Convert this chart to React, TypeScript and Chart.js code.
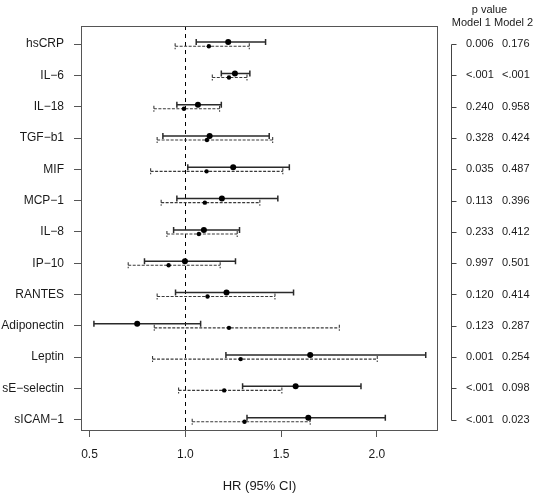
import React, { useEffect, useRef } from "react";
import { Chart, registerables } from "chart.js";

Chart.register(...registerables);

const categories = ["hsCRP", "IL\u22126", "IL\u221218", "TGF\u2212b1", "MIF", "MCP\u22121", "IL\u22128", "IP\u221210", "RANTES", "Adiponectin", "Leptin", "sE\u2212selectin", "sICAM\u22121"];
const model1HR = [1.224, 1.259, 1.066, 1.127, 1.25, 1.191, 1.097, 0.998, 1.215, 0.749, 1.652, 1.576, 1.642];
const model1Lo = [1.057, 1.188, 0.956, 0.883, 1.013, 0.956, 0.939, 0.787, 0.949, 0.523, 1.212, 1.299, 1.322];
const model1Hi = [1.419, 1.337, 1.188, 1.438, 1.543, 1.483, 1.283, 1.262, 1.565, 1.08, 2.255, 1.917, 2.044];
const model2HR = [1.123, 1.228, 0.993, 1.113, 1.111, 1.102, 1.071, 0.913, 1.116, 1.228, 1.289, 1.203, 1.309];
const model2Lo = [0.947, 1.141, 0.836, 0.853, 0.819, 0.874, 0.904, 0.702, 0.853, 0.838, 0.829, 0.965, 1.036];
const model2Hi = [1.334, 1.322, 1.179, 1.456, 1.509, 1.389, 1.271, 1.182, 1.468, 1.804, 2.002, 1.504, 1.652];
const pModel1 = ["0.006", "<.001", "0.240", "0.328", "0.035", "0.113", "0.233", "0.997", "0.120", "0.123", "0.001", "<.001", "<.001"];
const pModel2 = ["0.176", "<.001", "0.958", "0.424", "0.487", "0.396", "0.412", "0.501", "0.414", "0.287", "0.254", "0.098", "0.023"];
const xTicks = [0.5, 1.0, 1.5, 2.0];
const refValue = 1.0;
const xTitle = "HR (95% CI)";
const pHeader = "p value";
const modelHeader = "Model 1 Model 2";

const FONT = "'Liberation Sans', Arial, Helvetica, sans-serif";
const N = categories.length;
const rowPos = (i: number) => N - i;
const OFF = 0.065;

const forestPlugin = {
  id: "forest",
  beforeDatasetsDraw(chart: any) {
    const { ctx, chartArea: a, scales } = chart;
    const x = scales.x;
    const y = scales.y;
    ctx.save();
    const xr = Math.round(x.getPixelForValue(refValue)) + 0.5;
    ctx.strokeStyle = "#000";
    ctx.lineWidth = 1;
    ctx.setLineDash([4, 4]);
    ctx.beginPath();
    ctx.moveTo(xr, a.top);
    ctx.lineTo(xr, a.bottom);
    ctx.stroke();

    const bar = (lo: number, hi: number, pos: number, dashed: boolean) => {
      const py = y.getPixelForValue(pos);
      const x0 = x.getPixelForValue(lo);
      const x1 = x.getPixelForValue(hi);
      ctx.setLineDash(dashed ? [3, 1.5] : []);
      ctx.strokeStyle = dashed ? "#3a3a3a" : "#2a2a2a";
      ctx.lineWidth = dashed ? 1.1 : 1.5;
      ctx.beginPath();
      ctx.moveTo(x0, py);
      ctx.lineTo(x1, py);
      ctx.moveTo(x0, py - 3);
      ctx.lineTo(x0, py + 3);
      ctx.moveTo(x1, py - 3);
      ctx.lineTo(x1, py + 3);
      ctx.stroke();
    };
    categories.forEach((_, i) => {
      bar(model2Lo[i], model2Hi[i], rowPos(i) - OFF, true);
      bar(model1Lo[i], model1Hi[i], rowPos(i) + OFF, false);
    });
    ctx.restore();
  },
  afterDraw(chart: any) {
    const { ctx, chartArea: a, scales } = chart;
    const y = scales.y;
    ctx.save();
    ctx.setLineDash([]);
    ctx.strokeStyle = "#555";
    ctx.lineWidth = 1;
    ctx.strokeRect(a.left + 0.5, a.top + 0.5, a.right - a.left - 1, a.bottom - a.top);
    const axX = Math.round(a.right) + 13.5;
    const yTop = y.getPixelForValue(rowPos(0));
    const yBot = y.getPixelForValue(rowPos(N - 1));
    ctx.strokeStyle = "#444";
    ctx.beginPath();
    ctx.moveTo(axX, Math.round(yTop) + 0.5);
    ctx.lineTo(axX, Math.round(yBot) + 0.5);
    categories.forEach((_, i) => {
      const py = Math.round(y.getPixelForValue(rowPos(i))) + 0.5;
      ctx.moveTo(axX, py);
      ctx.lineTo(axX + 5, py);
    });
    ctx.stroke();
    ctx.fillStyle = "#1a1a1a";
    ctx.font = `11px ${FONT}`;
    ctx.textBaseline = "middle";
    ctx.textAlign = "left";
    categories.forEach((_, i) => {
      const py = y.getPixelForValue(rowPos(i));
      ctx.fillText(pModel1[i], axX + 14.5, py);
      ctx.fillText(pModel2[i], axX + 50.5, py);
    });
    ctx.textAlign = "center";
    ctx.fillText(pHeader, axX + 38, a.top - 16);
    ctx.fillText(modelHeader, axX + 41, a.top - 3);
    ctx.restore();
  },
};

export default function App() {
  const ref = useRef<HTMLCanvasElement>(null);
  useEffect(() => {
    document.body.style.margin = "0";
    const canvas = ref.current;
    if (!canvas) return;
    const chart = new Chart(canvas, {
      type: "scatter",
      data: {
        datasets: [
          {
            label: "Model 2",
            data: categories.map((_, i) => ({ x: model2HR[i], y: rowPos(i) - OFF })),
            pointRadius: 2.2,
            pointBackgroundColor: "#000",
            pointBorderWidth: 0,
            pointHoverRadius: 2.2,
          },
          {
            label: "Model 1",
            data: categories.map((_, i) => ({ x: model1HR[i], y: rowPos(i) + OFF })),
            pointRadius: 3,
            pointBackgroundColor: "#000",
            pointBorderWidth: 0,
            pointHoverRadius: 3,
          },
        ],
      },
      options: {
        animation: false,
        responsive: false,
        devicePixelRatio: 1,
        layout: { padding: { top: 26, right: 99, left: 0, bottom: 0 } },
        plugins: { legend: { display: false }, tooltip: { enabled: false } },
        events: [],
        scales: {
          x: {
            type: "linear",
            min: 0.4556,
            max: 2.319,
            afterFit: (s: any) => {
              s.height = 66;
            },
            afterBuildTicks: (s: any) => {
              s.ticks = xTicks.map((v) => ({ value: v }));
            },
            ticks: {
              autoSkip: false,
              maxRotation: 0,
              padding: 10,
              color: "#1a1a1a",
              font: { family: FONT, size: 12 },
              callback: (v: any) => Number(v).toFixed(1),
            },
            grid: { display: true, drawOnChartArea: false, drawTicks: true, tickLength: 7, color: "#555" },
            border: { display: false },
            title: {
              display: true,
              text: xTitle,
              color: "#1a1a1a",
              font: { family: FONT, size: 13 },
              padding: { top: 4, bottom: 2 },
            },
          },
          y: {
            type: "linear",
            min: 0.67,
            max: 13.58,
            afterFit: (s: any) => {
              s.width = 81;
            },
            afterBuildTicks: (s: any) => {
              s.ticks = categories.map((_, i) => ({ value: rowPos(i) }));
            },
            ticks: {
              autoSkip: false,
              padding: 10,
              color: "#1a1a1a",
              font: { family: FONT, size: 12 },
              callback: (v: any) => categories[N - Math.round(Number(v))],
            },
            grid: { display: true, drawOnChartArea: false, drawTicks: true, tickLength: 7, color: "#555" },
            border: { display: false },
          },
        },
      },
      plugins: [forestPlugin],
    });
    return () => chart.destroy();
  }, []);
  return (
    <div style={{ width: 537, height: 496, position: "relative", background: "#fff" }}>
      <canvas ref={ref} width={537} height={496} style={{ display: "block", width: 537, height: 496 }} />
    </div>
  );
}
